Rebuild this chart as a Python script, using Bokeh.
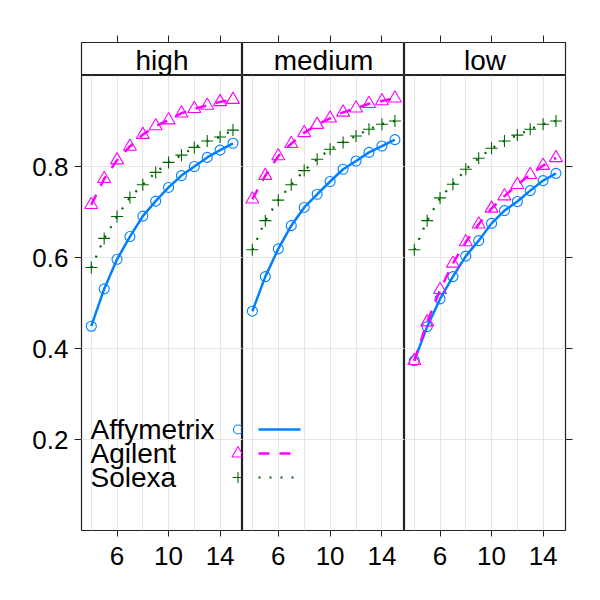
from bokeh.plotting import figure
from bokeh.models import Range1d, FixedTicker, LinearAxis, Grid, Label
from bokeh.layouts import column, row
from bokeh.embed import file_html
from bokeh.resources import INLINE

# ---------------- data ----------------
panels = ["high", "medium", "low"]
x_vals = [4, 5, 6, 7, 8, 9, 10, 11, 12, 13, 14, 15]
series_names = ["Affymetrix", "Agilent", "Solexa"]

affy_high = [0.449, 0.531, 0.596, 0.646, 0.691, 0.724, 0.754, 0.780, 0.800, 0.820, 0.836, 0.851]
agil_high = [0.716, 0.773, 0.814, 0.844, 0.870, 0.889, 0.902, 0.917, 0.927, 0.934, 0.942, 0.947]
solx_high = [0.578, 0.642, 0.690, 0.732, 0.760, 0.787, 0.809, 0.825, 0.842, 0.856, 0.865, 0.880]

affy_medium = [0.482, 0.558, 0.619, 0.670, 0.710, 0.739, 0.767, 0.794, 0.812, 0.831, 0.845, 0.859]
agil_medium = [0.728, 0.780, 0.823, 0.850, 0.874, 0.892, 0.906, 0.919, 0.928, 0.938, 0.944, 0.950]
solx_medium = [0.617, 0.681, 0.726, 0.760, 0.791, 0.816, 0.838, 0.853, 0.867, 0.882, 0.893, 0.900]

affy_low = [0.373, 0.448, 0.509, 0.558, 0.603, 0.637, 0.675, 0.703, 0.723, 0.747, 0.769, 0.785]
agil_low = [0.373, 0.458, 0.529, 0.587, 0.634, 0.673, 0.708, 0.735, 0.760, 0.782, 0.802, 0.819]
solx_low = [0.617, 0.681, 0.731, 0.761, 0.794, 0.818, 0.840, 0.856, 0.869, 0.882, 0.893, 0.900]

x_ticks = [6, 10, 14]
x_grid = [4, 6, 8, 10, 12, 14]
y_ticks = [0.2, 0.4, 0.6, 0.8]
y_tick_labels = ["0.2", "0.4", "0.6", "0.8"]

panel_data = {
    "high": [affy_high, agil_high, solx_high],
    "medium": [affy_medium, agil_medium, solx_medium],
    "low": [affy_low, agil_low, solx_low],
}

# ---------------- style / layout ----------------
COLORS = ["#0080ff", "#ff00ff", "#006400"]
MARKERS = ["circle", "triangle", "cross"]
MSIZES = [10, 13, 12]
DASHES = ["solid", "11 10", "2 9"]
LWIDTHS = [2.5, 2.5, 2.2]
FONT = "Liberation Sans"

XR = (3.24, 15.74)
YR = (0.0, 1.0)
FRAME_W = [161, 162, 161]
FRAME_H = 455
STRIP_H = 33
TOP = 42
BOTTOM = 62
LEFT = 81
RIGHT = 25
GRID_COLOR = "#e6e6e6"
FRAME_COLOR = "#222222"


def drop_default_grids(fig):
    for g in fig.grid:
        g.visible = False
    fig.center = [c for c in fig.center if not isinstance(c, Grid)]


strips = []
plots = []
for i, name in enumerate(panels):
    left = LEFT if i == 0 else 0
    right = RIGHT if i == 2 else 0
    xr = Range1d(*XR)

    # strip
    s = figure(frame_width=FRAME_W[i], frame_height=STRIP_H, x_range=xr, y_range=Range1d(0, 1),
               output_backend="svg", toolbar_location=None,
               x_axis_location=None, y_axis_location=None,
               min_border_left=left, min_border_right=right, min_border_top=TOP, min_border_bottom=0)
    drop_default_grids(s)
    s.outline_line_color = FRAME_COLOR
    s.outline_line_width = 1.2
    s.outline_line_alpha = 1
    top_ax = LinearAxis(ticker=FixedTicker(ticks=x_ticks),
                        major_label_overrides={t: "" for t in x_ticks},
                        major_tick_out=7, major_tick_in=0,
                        minor_tick_line_color=None, axis_line_color=None,
                        major_tick_line_color=FRAME_COLOR,
                        major_label_text_font_size="8px")
    s.add_layout(top_ax, "above")
    s.add_layout(Label(x=FRAME_W[i] / 2, y=STRIP_H / 2 - 1, x_units="screen", y_units="screen",
                       text=name, text_align="center", text_baseline="middle",
                       text_font=FONT, text_font_size="28px", text_color="black"))
    strips.append(s)

    # panel
    p = figure(frame_width=FRAME_W[i], frame_height=FRAME_H, x_range=xr, y_range=Range1d(*YR),
               output_backend="svg", toolbar_location=None,
               x_axis_location=None, y_axis_location=None,
               min_border_left=left, min_border_right=right, min_border_top=0, min_border_bottom=BOTTOM)
    drop_default_grids(p)
    p.outline_line_color = FRAME_COLOR
    p.outline_line_width = 1.2
    p.outline_line_alpha = 1
    p.extra_x_ranges = {"key": Range1d(0, FRAME_W[i])}
    p.extra_y_ranges = {"key": Range1d(0, FRAME_H)}

    bottom_ax = LinearAxis(ticker=FixedTicker(ticks=x_ticks),
                           major_tick_out=6, major_tick_in=0,
                           minor_tick_line_color=None, axis_line_color=None,
                           major_tick_line_color=FRAME_COLOR,
                           major_label_standoff=10,
                           major_label_text_font=FONT, major_label_text_font_size="26px",
                           major_label_text_color="black")
    p.add_layout(bottom_ax, "below")
    p.add_layout(Grid(dimension=0, ticker=FixedTicker(ticks=x_grid), grid_line_color=GRID_COLOR))
    p.add_layout(Grid(dimension=1, ticker=FixedTicker(ticks=y_ticks), grid_line_color=GRID_COLOR))

    if i == 0:
        lax = LinearAxis(ticker=FixedTicker(ticks=y_ticks),
                         major_label_overrides=dict(zip(y_ticks, y_tick_labels)),
                         major_tick_out=7, major_tick_in=0,
                         minor_tick_line_color=None, axis_line_color=None,
                         major_tick_line_color=FRAME_COLOR,
                         major_label_standoff=6,
                         major_label_text_font=FONT, major_label_text_font_size="26px",
                         major_label_text_color="black")
        p.add_layout(lax, "left")
    if i == 2:
        rax = LinearAxis(ticker=FixedTicker(ticks=y_ticks),
                         major_label_overrides={t: "" for t in y_ticks},
                         major_tick_out=7, major_tick_in=0,
                         minor_tick_line_color=None, axis_line_color=None,
                         major_tick_line_color=FRAME_COLOR,
                         major_label_text_font_size="8px")
        p.add_layout(rax, "right")

    for k, ys in enumerate(panel_data[name]):
        p.line(x_vals, ys, line_color=COLORS[k], line_width=LWIDTHS[k], line_dash=DASHES[k])
        p.scatter(x_vals, ys, marker=MARKERS[k], size=MSIZES[k], fill_color=None,
                  line_color=COLORS[k], line_width=1.1)
    plots.append(p)

# ---------------- key (legend), lattice style, spanning panels 1-2 ----------------
KEY_Y = [101, 77, 53]       # px above panel bottom
KEY_TEXT_X = 9              # px from panel-1 left edge
KEY_SYM_X = 156.5           # px from panel-1 left edge
KEY_LINE_X = (16, 58)       # px from panel-2 left edge
for k, nm in enumerate(series_names):
    plots[0].add_layout(Label(x=KEY_TEXT_X, y=KEY_Y[k], x_units="screen", y_units="screen",
                              text=nm, text_align="left", text_baseline="middle",
                              text_font=FONT, text_font_size="28px", text_color="black"))
    plots[0].scatter([KEY_SYM_X], [KEY_Y[k]], marker=MARKERS[k], size=MSIZES[k] - 1,
                     fill_color=None, line_color=COLORS[k], line_width=1.1,
                     x_range_name="key", y_range_name="key")
    plots[1].line([KEY_LINE_X[0], KEY_LINE_X[1]], [KEY_Y[k], KEY_Y[k]], line_color=COLORS[k],
                  line_width=LWIDTHS[k], line_dash=DASHES[k],
                  x_range_name="key", y_range_name="key")

layout = column(row(*strips), row(*plots))
open("out.html", "w").write(file_html(layout, INLINE))
